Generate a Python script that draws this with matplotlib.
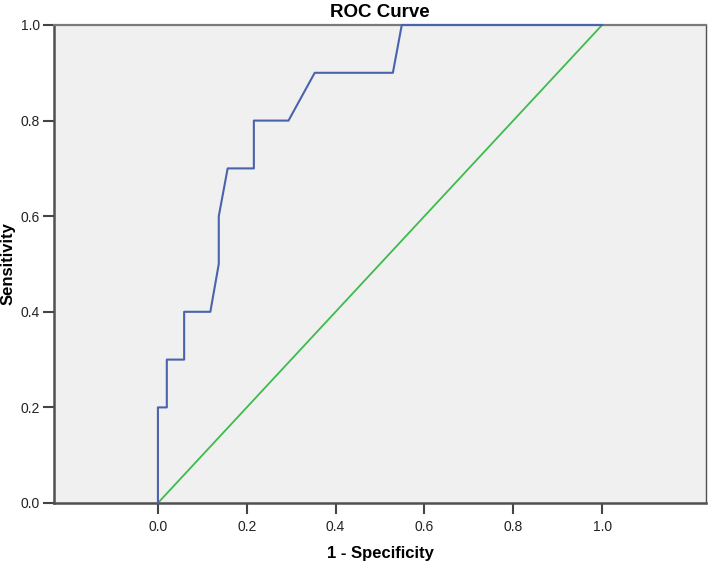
import numpy as np
import matplotlib.pyplot as plt

# points of the ROC curve
fpr = [0.0, 0.0, 0.020, 0.020, 0.059, 0.059, 0.118, 0.137, 0.137, 0.157,
       0.216, 0.216, 0.294, 0.353, 0.529, 0.549, 1.0]
tpr = [0.0, 0.2, 0.2, 0.3, 0.3, 0.4, 0.4, 0.5, 0.6, 0.7,
       0.7, 0.8, 0.8, 0.9, 0.9, 1.0, 1.0]
ref_x = [0.0, 1.0]
ref_y = [0.0, 1.0]
ticks = [0.0, 0.2, 0.4, 0.6, 0.8, 1.0]

plt.rcParams['font.family'] = ['Liberation Sans', 'DejaVu Sans']

fig = plt.figure(figsize=(7.09, 5.64), dpi=100)
ax = fig.add_axes([54/709, 61/564, 652/709, 478/564])
ax.set_facecolor('#f0f0f0')

ax.plot(ref_x, ref_y, color='#3dbb4c', lw=1.3, zorder=2)
ax.plot(fpr, tpr, color='#4a63ad', lw=1.5, zorder=3, clip_on=False)

ax.set_xlim(-0.234, 1.234)
ax.set_ylim(0, 1)
ax.set_xticks(ticks)
ax.set_yticks(ticks)
ax.set_xticklabels(['%.1f' % t for t in ticks])
ax.set_yticklabels(['%.1f' % t for t in ticks])
ax.tick_params(direction='out', length=8, width=1.5, color='#444444',
               labelsize=10, labelcolor='#222222', pad=2)
ax.tick_params(axis='x', pad=4)

for side in ['left', 'bottom']:
    ax.spines[side].set_color('#505050')
    ax.spines[side].set_linewidth(1.8)
ax.spines['top'].set_color('#7a7a7a')
ax.spines['top'].set_linewidth(1.6)
ax.spines['right'].set_color('#505050')
ax.spines['right'].set_linewidth(1.0)

ax.set_title('ROC Curve', fontsize=13.5, fontweight='bold', pad=6)
ax.set_xlabel('1 - Specificity', fontsize=12, fontweight='bold', labelpad=9)
ax.set_ylabel('Sensitivity', fontsize=12, fontweight='bold', labelpad=4)

fig.savefig('out.png', dpi=100)
